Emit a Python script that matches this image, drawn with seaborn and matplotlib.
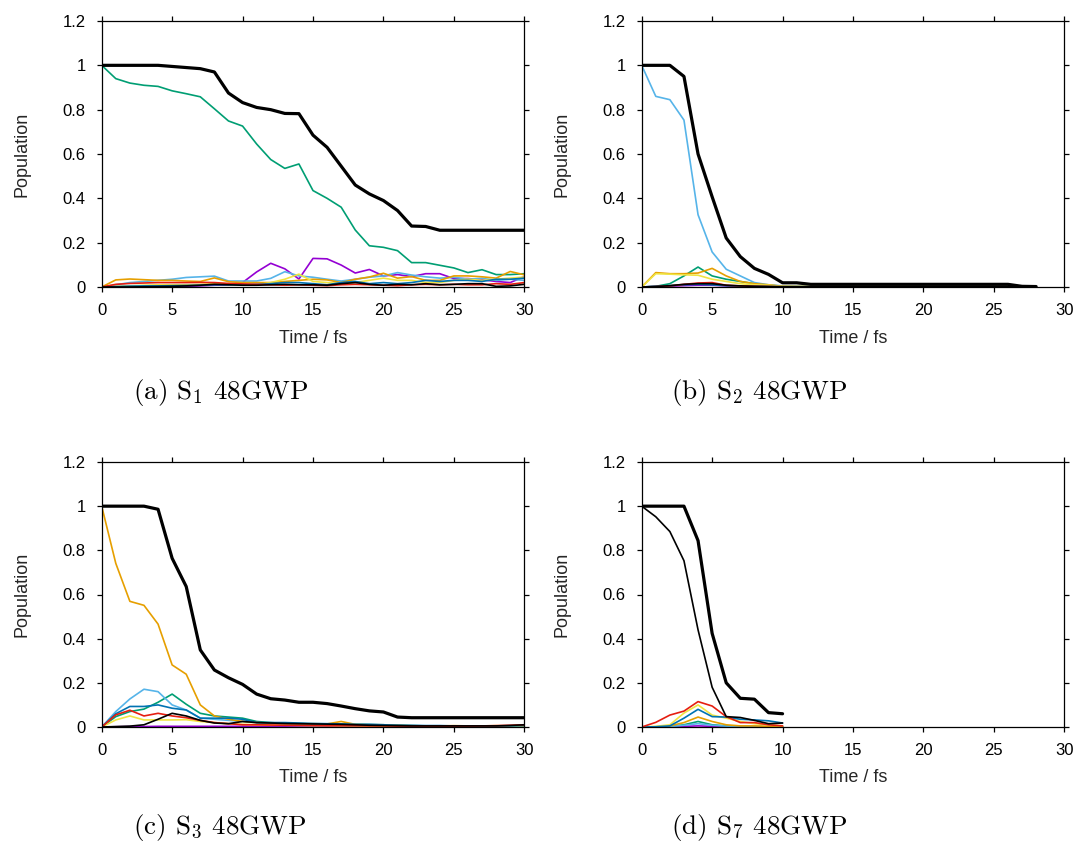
import matplotlib
matplotlib.use("Agg")
import matplotlib.pyplot as plt
import seaborn as sns
import numpy as np
import pandas as pd

# ---------------- data ----------------
t_a = list(range(0, 31))
a_total = [1, 1, 1, 1, 1, 0.995, 0.99, 0.985, 0.97, 0.875, 0.832, 0.81, 0.80, 0.783, 0.782, 0.685, 0.63, 0.545, 0.46, 0.42, 0.39, 0.345, 0.275, 0.273, 0.256, 0.256, 0.256, 0.256, 0.256, 0.256, 0.256]
a_S0 = [0, 0, 0, 0, 0, 0.002, 0.003, 0.005, 0.008, 0.01, 0.02, 0.068, 0.107, 0.082, 0.036, 0.129, 0.127, 0.099, 0.063, 0.079, 0.05, 0.056, 0.047, 0.06, 0.06, 0.038, 0.038, 0.033, 0.025, 0.02, 0.047]
a_S1 = [1, 0.94, 0.92, 0.91, 0.905, 0.885, 0.872, 0.858, 0.804, 0.749, 0.726, 0.645, 0.575, 0.535, 0.555, 0.435, 0.40, 0.36, 0.257, 0.186, 0.179, 0.164, 0.11, 0.11, 0.098, 0.086, 0.065, 0.078, 0.056, 0.056, 0.06]
a_S2 = [0, 0.01, 0.02, 0.025, 0.03, 0.035, 0.043, 0.046, 0.049, 0.027, 0.027, 0.027, 0.039, 0.069, 0.05, 0.044, 0.035, 0.027, 0.035, 0.044, 0.05, 0.065, 0.054, 0.046, 0.04, 0.044, 0.035, 0.039, 0.03, 0.035, 0.03]
a_S3 = [0, 0.032, 0.036, 0.033, 0.03, 0.03, 0.027, 0.025, 0.041, 0.024, 0.02, 0.02, 0.02, 0.025, 0.03, 0.035, 0.032, 0.02, 0.035, 0.045, 0.062, 0.04, 0.047, 0.03, 0.03, 0.05, 0.05, 0.046, 0.04, 0.07, 0.055]
a_S4 = [0, 0.003, 0.005, 0.008, 0.01, 0.01, 0.01, 0.012, 0.015, 0.012, 0.01, 0.01, 0.02, 0.035, 0.058, 0.025, 0.02, 0.015, 0.02, 0.03, 0.04, 0.03, 0.03, 0.02, 0.02, 0.03, 0.035, 0.03, 0.035, 0.04, 0.045]
a_S5 = [0, 0.002, 0.004, 0.005, 0.005, 0.006, 0.007, 0.008, 0.01, 0.01, 0.01, 0.012, 0.015, 0.02, 0.02, 0.015, 0.01, 0.02, 0.025, 0.015, 0.02, 0.015, 0.02, 0.03, 0.025, 0.03, 0.03, 0.025, 0.035, 0.035, 0.04]
a_S6 = [0, 0.012, 0.016, 0.018, 0.02, 0.02, 0.02, 0.021, 0.02, 0.016, 0.014, 0.012, 0.01, 0.008, 0.01, 0.008, 0.006, 0.01, 0.012, 0.01, 0.008, 0.006, 0.01, 0.012, 0.01, 0.012, 0.01, 0.01, 0.015, 0.012, 0.02]
a_S7 = [0, 0, 0, 0.001, 0.002, 0.003, 0.005, 0.008, 0.012, 0.01, 0.008, 0.008, 0.01, 0.012, 0.01, 0.01, 0.008, 0.015, 0.02, 0.012, 0.008, 0.012, 0.01, 0.015, 0.01, 0.012, 0.015, 0.015, 0.003, 0.005, 0.012]

t_b = list(range(0, 29))
b_total = [1, 1, 1, 0.95, 0.6, 0.407, 0.221, 0.137, 0.084, 0.057, 0.019, 0.019, 0.012, 0.012, 0.012, 0.012, 0.012, 0.012, 0.012, 0.012, 0.012, 0.012, 0.012, 0.012, 0.012, 0.012, 0.012, 0.003, 0.002]
b_S0 = [0, 0.002, 0.004, 0.006, 0.008, 0.008, 0.005, 0.003, 0.002, 0.001, 0.001, 0.001, 0.001, 0.001, 0.001, 0.001, 0.001, 0.001, 0.001, 0.001, 0.001, 0.001, 0.001, 0.001, 0.001, 0.001, 0.001, 0.001, 0.001]
b_S1 = [0, 0.003, 0.015, 0.05, 0.09, 0.05, 0.035, 0.025, 0.015, 0.008, 0.003, 0.002, 0.002, 0.002, 0.002, 0.002, 0.002, 0.002, 0.002, 0.002, 0.002, 0.002, 0.002, 0.002, 0.002, 0.002, 0.002, 0.001, 0.001]
b_S2 = [1, 0.86, 0.845, 0.753, 0.326, 0.158, 0.08, 0.05, 0.02, 0.01, 0.005, 0.003, 0.003, 0.003, 0.003, 0.003, 0.003, 0.003, 0.003, 0.003, 0.003, 0.003, 0.003, 0.003, 0.003, 0.003, 0.003, 0.001, 0.001]
b_S3 = [0, 0.065, 0.06, 0.06, 0.063, 0.084, 0.05, 0.025, 0.015, 0.01, 0.003, 0.002, 0.002, 0.002, 0.002, 0.002, 0.002, 0.002, 0.002, 0.002, 0.002, 0.002, 0.002, 0.002, 0.002, 0.002, 0.002, 0.001, 0.001]
b_S4 = [0, 0.06, 0.058, 0.055, 0.053, 0.035, 0.025, 0.015, 0.01, 0.008, 0.003, 0.002, 0.002, 0.002, 0.002, 0.002, 0.002, 0.002, 0.002, 0.002, 0.002, 0.002, 0.002, 0.002, 0.002, 0.002, 0.002, 0.001, 0.001]
b_S5 = [0, 0.003, 0.006, 0.01, 0.012, 0.01, 0.006, 0.004, 0.003, 0.002, 0.001, 0.001, 0.001, 0.001, 0.001, 0.001, 0.001, 0.001, 0.001, 0.001, 0.001, 0.001, 0.001, 0.001, 0.001, 0.001, 0.001, 0.001, 0.001]
b_S6 = [0, 0.002, 0.005, 0.012, 0.018, 0.02, 0.008, 0.005, 0.003, 0.002, 0.001, 0.001, 0.001, 0.001, 0.001, 0.001, 0.001, 0.001, 0.001, 0.001, 0.001, 0.001, 0.001, 0.001, 0.001, 0.001, 0.001, 0.001, 0.001]
b_S7 = [0, 0.002, 0.006, 0.012, 0.015, 0.015, 0.008, 0.005, 0.003, 0.002, 0.001, 0.001, 0.001, 0.001, 0.001, 0.001, 0.001, 0.001, 0.001, 0.001, 0.001, 0.001, 0.001, 0.001, 0.001, 0.001, 0.001, 0.001, 0.001]

t_c = list(range(0, 31))
c_total = [1, 1, 1, 1, 0.986, 0.764, 0.636, 0.349, 0.258, 0.223, 0.193, 0.149, 0.128, 0.122, 0.112, 0.112, 0.106, 0.095, 0.083, 0.073, 0.068, 0.045, 0.042, 0.042, 0.042, 0.042, 0.042, 0.042, 0.042, 0.042, 0.042]
c_S0 = [0, 0.001, 0.002, 0.002, 0.003, 0.003, 0.003, 0.003, 0.003, 0.003, 0.003, 0.003, 0.003, 0.003, 0.003, 0.003, 0.003, 0.003, 0.003, 0.003, 0.003, 0.003, 0.003, 0.003, 0.003, 0.003, 0.003, 0.003, 0.003, 0.003, 0.003]
c_S1 = [0, 0.047, 0.07, 0.081, 0.112, 0.149, 0.103, 0.062, 0.05, 0.045, 0.04, 0.025, 0.02, 0.016, 0.015, 0.014, 0.013, 0.012, 0.012, 0.011, 0.01, 0.008, 0.006, 0.005, 0.005, 0.005, 0.004, 0.004, 0.004, 0.004, 0.005]
c_S2 = [0, 0.07, 0.127, 0.171, 0.16, 0.1, 0.077, 0.04, 0.035, 0.03, 0.025, 0.02, 0.016, 0.014, 0.013, 0.012, 0.012, 0.01, 0.01, 0.009, 0.01, 0.008, 0.007, 0.006, 0.006, 0.005, 0.005, 0.005, 0.005, 0.005, 0.006]
c_S3 = [1, 0.741, 0.569, 0.551, 0.466, 0.281, 0.239, 0.1, 0.05, 0.035, 0.025, 0.02, 0.018, 0.016, 0.015, 0.015, 0.014, 0.025, 0.012, 0.01, 0.01, 0.008, 0.006, 0.005, 0.005, 0.006, 0.005, 0.005, 0.006, 0.005, 0.008]
c_S4 = [0, 0.032, 0.05, 0.032, 0.032, 0.032, 0.033, 0.025, 0.02, 0.015, 0.012, 0.01, 0.008, 0.008, 0.007, 0.006, 0.006, 0.005, 0.005, 0.004, 0.004, 0.004, 0.003, 0.003, 0.003, 0.003, 0.003, 0.003, 0.003, 0.003, 0.003]
c_S5 = [0, 0.06, 0.093, 0.093, 0.1, 0.085, 0.077, 0.04, 0.04, 0.04, 0.035, 0.02, 0.02, 0.02, 0.018, 0.016, 0.015, 0.014, 0.012, 0.012, 0.01, 0.008, 0.007, 0.006, 0.006, 0.005, 0.005, 0.005, 0.005, 0.005, 0.006]
c_S6 = [0, 0.055, 0.076, 0.05, 0.062, 0.05, 0.042, 0.03, 0.02, 0.015, 0.01, 0.01, 0.009, 0.008, 0.008, 0.007, 0.006, 0.006, 0.006, 0.005, 0.005, 0.004, 0.004, 0.004, 0.004, 0.004, 0.004, 0.005, 0.006, 0.008, 0.01]
c_S7 = [0, 0.002, 0.004, 0.01, 0.035, 0.062, 0.05, 0.03, 0.018, 0.015, 0.025, 0.02, 0.018, 0.016, 0.015, 0.014, 0.013, 0.012, 0.01, 0.008, 0.007, 0.006, 0.005, 0.005, 0.005, 0.005, 0.005, 0.005, 0.005, 0.007, 0.01]

t_d = list(range(0, 11))
d_total = [1, 1, 1, 1, 0.844, 0.424, 0.2, 0.13, 0.126, 0.065, 0.06]
d_S0 = [0, 0.0, 0.001, 0.003, 0.005, 0.003, 0.002, 0.001, 0.001, 0.001, 0.001]
d_S1 = [0, 0.0, 0.002, 0.01, 0.025, 0.01, 0.005, 0.003, 0.002, 0.001, 0.001]
d_S2 = [0, 0.0, 0.002, 0.008, 0.015, 0.008, 0.004, 0.002, 0.002, 0.001, 0.001]
d_S3 = [0, 0.001, 0.005, 0.02, 0.045, 0.025, 0.01, 0.005, 0.005, 0.003, 0.002]
d_S4 = [0, 0.003, 0.01, 0.063, 0.1, 0.054, 0.04, 0.025, 0.015, 0.01, 0.005]
d_S5 = [0, 0.001, 0.005, 0.04, 0.08, 0.047, 0.045, 0.035, 0.032, 0.028, 0.018]
d_S6 = [0, 0.021, 0.054, 0.072, 0.115, 0.095, 0.047, 0.02, 0.02, 0.01, 0.005]
d_S7 = [1, 0.952, 0.885, 0.753, 0.44, 0.18, 0.047, 0.043, 0.03, 0.015, 0.018]

state_names = ["S0", "S1", "S2", "S3", "S4", "S5", "S6", "S7"]
state_colors = ["#9400D3", "#009E73", "#56B4E9", "#E69F00", "#F0E442", "#0072B2", "#E51E10", "#000000"]

panels = [
    ("a", t_a, [a_S0, a_S1, a_S2, a_S3, a_S4, a_S5, a_S6, a_S7], a_total, "(a) S$_1$ 48GWP"),
    ("b", t_b, [b_S0, b_S1, b_S2, b_S3, b_S4, b_S5, b_S6, b_S7], b_total, "(b) S$_2$ 48GWP"),
    ("c", t_c, [c_S0, c_S1, c_S2, c_S3, c_S4, c_S5, c_S6, c_S7], c_total, "(c) S$_3$ 48GWP"),
    ("d", t_d, [d_S0, d_S1, d_S2, d_S3, d_S4, d_S5, d_S6, d_S7], d_total, "(d) S$_7$ 48GWP"),
]

y_ticks = [0, 0.2, 0.4, 0.6, 0.8, 1.0, 1.2]
y_ticklabels = ["0", "0.2", "0.4", "0.6", "0.8", "1", "1.2"]
x_ticks = [0, 5, 10, 15, 20, 25, 30]

# ---------------- style ----------------
sns.set_style("ticks")
plt.rcParams["font.family"] = ["Liberation Sans", "DejaVu Sans"]
plt.rcParams["mathtext.fontset"] = "cm"

W, H = 1078, 844
fig = plt.figure(figsize=(W / 100, H / 100), dpi=100)
fig.patch.set_facecolor("white")

# axes boxes in pixels: (left, top, right, bottom)
boxes = [
    (101.7, 21, 524.3, 287),
    (641.7, 21, 1064.3, 287),
    (101.7, 462, 524.3, 727),
    (641.7, 462, 1064.3, 727),
]
caption_pos = [(133, 399), (671, 399), (133, 834), (671, 834)]

for (key, t, states, total, caption), (l, tp, r, bt), (cx, cy) in zip(panels, boxes, caption_pos):
    ax = fig.add_axes([l / W, 1 - bt / H, (r - l) / W, (bt - tp) / H])
    ax.set_facecolor("white")
    for name, col, vals in zip(state_names, state_colors, states):
        df = pd.DataFrame({"t": t, "pop": vals})
        sns.lineplot(data=df, x="t", y="pop", color=col, lw=1.2, ax=ax)
    dft = pd.DataFrame({"t": t, "pop": total})
    sns.lineplot(data=dft, x="t", y="pop", color="black", lw=2.3, ax=ax)

    ax.set_xlim(0, 30)
    ax.set_ylim(0, 1.2)
    ax.set_xticks(x_ticks)
    ax.set_xticklabels([str(v) for v in x_ticks])
    ax.set_yticks(y_ticks)
    ax.set_yticklabels(y_ticklabels)
    ax.tick_params(direction="out", length=3.6, width=0.9, color="black",
                   top=True, right=True, labeltop=False, labelright=False,
                   labelsize=12, pad=8, labelcolor="black")
    for sp in ax.spines.values():
        sp.set_visible(True)
        sp.set_color("black")
        sp.set_linewidth(0.9)
    ax.set_xlabel("Time / fs", fontsize=13)
    ax.set_ylabel("Population", fontsize=13)
    ax.xaxis.set_label_coords(0.5, -0.16)
    ax.yaxis.set_label_coords(-0.168, 0.5)
    ax.grid(False)

    fig.text(cx / W, 1 - cy / H, caption, fontfamily="cmr10", fontsize=19.5,
             ha="left", va="baseline", color="black")

fig.savefig("out.png", dpi=100, facecolor="white")
